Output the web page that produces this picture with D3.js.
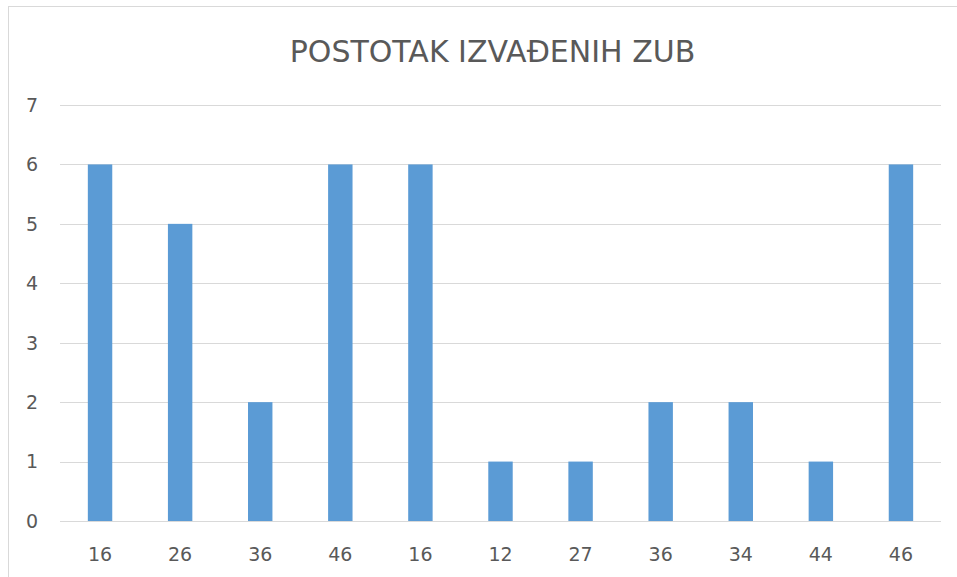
<!DOCTYPE html>
<html>
<head>
<meta charset="utf-8">
<script src="https://cdn.jsdelivr.net/npm/d3@7"></script>
<style>
  body { margin: 0; background: #fff; }
  svg { display: block; font-family: "DejaVu Sans", sans-serif; }
</style>
</head>
<body>
<svg width="957" height="577"></svg>
<script>
// chart data
var toothLabels = ["16", "26", "36", "46", "16", "12", "27", "36", "34", "44", "46"];
var toothCounts = [6, 5, 2, 6, 6, 1, 1, 2, 2, 1, 6];
var yTicks = [0, 1, 2, 3, 4, 5, 6, 7];
var chartTitle = "POSTOTAK IZVAĐENIH ZUB";

var svg = d3.select("svg");

// outer chart border
svg.append("rect")
  .attr("x", 8.5).attr("y", 6.5)
  .attr("width", 1000).attr("height", 600)
  .style("fill", "#fff")
  .style("stroke", "#d9d9d9");

var plotLeft = 60, plotRight = 941, plotTop = 105, plotBottom = 521;

var x = d3.scaleBand()
  .domain(d3.range(toothLabels.length))
  .range([plotLeft, plotRight])
  .paddingInner(0.695)
  .paddingOuter(0.3475);

var y = d3.scaleLinear().domain([0, 7]).range([plotBottom, plotTop]);

// gridlines
svg.append("g")
  .selectAll("line")
  .data(yTicks)
  .enter().append("line")
    .attr("x1", plotLeft).attr("x2", plotRight)
    .attr("y1", function(d){ return Math.round(y(d)) + 0.5; })
    .attr("y2", function(d){ return Math.round(y(d)) + 0.5; })
    .style("stroke", "#d9d9d9")
    .style("stroke-width", 1);

// y labels
svg.append("g")
  .selectAll("text")
  .data(yTicks)
  .enter().append("text")
    .attr("x", 38)
    .attr("y", function(d){ return y(d); })
    .attr("dy", "0.36em")
    .attr("text-anchor", "end")
    .style("font-size", "19px")
    .style("fill", "#595959")
    .text(function(d){ return d; });

// bars
svg.append("g")
  .selectAll("rect")
  .data(toothCounts)
  .enter().append("rect")
    .attr("x", function(d, i){ return x(i); })
    .attr("y", function(d){ return y(d); })
    .attr("width", x.bandwidth())
    .attr("height", function(d){ return y(0) - y(d); })
    .style("fill", "#5b9bd5");

// x labels
svg.append("g")
  .selectAll("text")
  .data(toothLabels)
  .enter().append("text")
    .attr("x", function(d, i){ return x(i) + x.bandwidth() / 2; })
    .attr("y", 561)
    .attr("text-anchor", "middle")
    .style("font-size", "19px")
    .style("fill", "#595959")
    .text(function(d){ return d; });

// title
svg.append("text")
  .attr("x", 492.5)
  .attr("y", 62)
  .attr("text-anchor", "middle")
  .style("font-size", "30px")
  .style("fill", "#595959")
  .text(chartTitle);
</script>
</body>
</html>
